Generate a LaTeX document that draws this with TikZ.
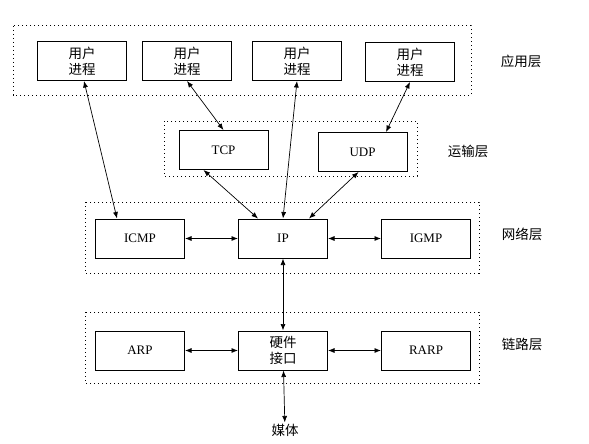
\documentclass[tikz,border=0pt]{standalone}
\usepackage{fontspec}
\setmainfont{Liberation Serif}
\newfontfamily\cjk{Noto Sans CJK SC}
\usetikzlibrary{positioning,arrows.meta}

\begin{document}
\begin{tikzpicture}[x=1pt, y=-1pt, <->, >={Latex[length=6.5pt,width=5pt]}, line width=0.7pt,
  box/.style={draw, line width=1pt, minimum width=89pt, minimum height=39pt, inner sep=0pt, align=center, font=\fontsize{13}{16}\selectfont},
  cnbox/.style={box, font=\cjk\fontsize{13.5}{16}\selectfont},
  layer/.style={-, draw, line width=1pt, dash pattern=on 1.2pt off 2.8pt},
  tag/.style={font=\cjk\fontsize{13.5}{16}\selectfont}]

  \useasboundingbox (0,0) rectangle (589,444);

  % layer frames
  \draw[layer] (13,26) rectangle (471,95);
  \draw[layer] (164,121) rectangle (417,176);
  \draw[layer] (85,202) rectangle (479,273);
  \draw[layer] (85,312) rectangle (479,383);

  \node[cnbox] (proc1) at (82,61) {用户\\进程};
  \node[cnbox] (proc2) [right = 15pt of proc1] {用户\\进程};
  \node[cnbox] (proc3) [right = 20pt of proc2] {用户\\进程};
  \node[cnbox] (proc4) [right = 23pt of proc3, yshift=-1pt] {用户\\进程};

  \node[box] (tcp) at (223.5,150) {TCP};
  \node[box] (udp) [right = 49pt of tcp, yshift=-2pt] {UDP};

  \node[box] (ip) at (283,238.5) {IP};
  \node[box] (icmp) [left = 53pt of ip] {ICMP};
  \node[box] (igmp) [right = 53pt of ip] {IGMP};

  \node[cnbox] (hw) [below = 72pt of ip] {硬件\\接口};
  \node[box] (arp) [left = 53pt of hw] {ARP};
  \node[box] (rarp) [right = 53pt of hw] {RARP};
  \node[tag, inner sep=1pt] (media) at (285,430) {媒体};

  \node[tag] (applayer) at (521,61) {应用层};
  \node[tag] (translayer) at (468,151) {运输层};
  \node[tag] (netlayer) at (522,234) {网络层};
  \node[tag] (linklayer) at (522,344) {链路层};

  \path
    ([xshift=2pt]proc1.south) edge ([xshift=22pt]icmp.north west)
    (proc2.south) edge (tcp.north)
    (proc3.south) edge (ip.north)
    (proc4.south) edge ([xshift=23.5pt]udp.north)
    ([xshift=-20pt]tcp.south) edge ([xshift=-25pt]ip.north)
    ([xshift=-4pt]udp.south) edge ([xshift=26pt]ip.north)
    (icmp) edge (ip)
    (ip) edge (igmp)
    (ip) edge (hw)
    (arp) edge (hw)
    (hw) edge (rarp)
    (hw) edge (media)
  ;
\end{tikzpicture}
\end{document}
